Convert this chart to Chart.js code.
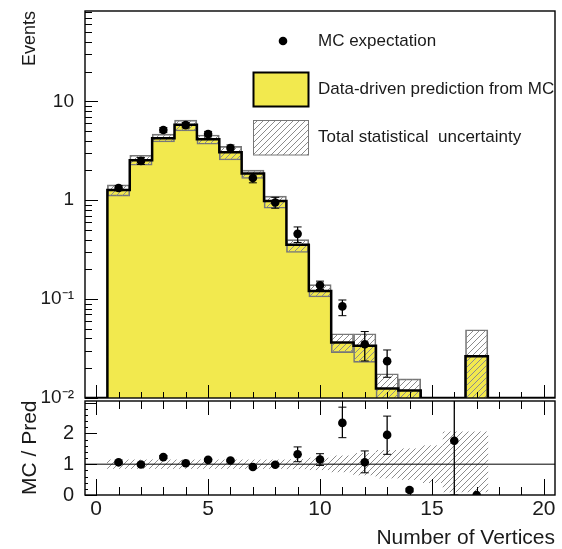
<!DOCTYPE html>
<html>
<head>
<meta charset="utf-8">
<script src="https://cdn.jsdelivr.net/npm/chart.js@4.4.1/dist/chart.umd.min.js"></script>
<style>
body { margin: 0; background: #fff; }
#wrap { position: relative; width: 562px; height: 549px; }
canvas { position: absolute; left: 0; }
#main { top: 0; }
#ratio { top: 396px; }
</style>
</head>
<body>
<div id="wrap">
<canvas id="main" width="562" height="425"></canvas>
<canvas id="ratio" width="562" height="153"></canvas>
</div>
<script>
// bin centres (number of vertices)
const bins = [1, 2, 3, 4, 5, 6, 7, 8, 9, 10, 11, 12, 13, 14, 15, 16, 17];

// data-driven prediction and its statistical band
const prediction = [1.27, 2.54, 4.23, 5.8, 4.13, 3.05, 1.86, 0.98, 0.354, 0.121, 0.0365, 0.0338, 0.0125, 0.0119, 0, 0, 0.0264];
const predLow = [1.10, 2.26, 3.88, 5.01, 3.68, 2.55, 1.66, 0.83, 0.296, 0.105, 0.0288, 0.0229, 0.005, 0.005, null, null, 0.005];
const predHigh = [1.43, 2.85, 4.67, 6.47, 4.57, 3.51, 2.02, 1.10, 0.40, 0.14, 0.0446, 0.0446, 0.0176, 0.0156, null, null, 0.049];

// MC expectation
const mcValues = [1.33, 2.5, 5.13, 5.75, 4.67, 3.37, 1.68, 0.95, 0.457, 0.138, 0.0844, 0.035, 0.0236, 0.0019, null, null, null];
const mcLow = [1.25, 2.3, 4.83, 5.4, 4.37, 3.12, 1.5, 0.83, 0.374, 0.125, 0.068, 0.0237, 0.0162, 0.0012, null, null, null];
const mcHigh = [1.41, 2.7, 5.43, 6.1, 4.97, 3.62, 1.86, 1.07, 0.537, 0.152, 0.098, 0.047, 0.0306, 0.0028, null, null, null];

// MC / Pred ratio
const ratioValues = [1.06, 0.99, 1.23, 1.03, 1.14, 1.12, 0.91, 0.98, 1.32, 1.15, 2.34, 1.06, 1.95, 0.16, null, 1.76, 0];
const ratioLow = [1.02, 0.95, 1.18, 0.99, 1.1, 1.08, 0.87, 0.93, 1.08, 0.96, 1.86, 0.72, 1.32, 0.1, null, 0, null];
const ratioHigh = [1.1, 1.03, 1.28, 1.07, 1.18, 1.16, 0.95, 1.03, 1.56, 1.34, 2.85, 1.43, 2.56, 0.22, null, 3.5, null];
const bandLow = [0.86, 0.86, 0.86, 0.86, 0.86, 0.86, 0.86, 0.86, 0.85, 0.82, 0.75, 0.65, 0.55, 0.5, 0.4, 0.1, 0.1];
const bandHigh = [1.14, 1.14, 1.14, 1.14, 1.14, 1.14, 1.14, 1.14, 1.15, 1.2, 1.27, 1.35, 1.45, 1.5, 1.6, 2.05, 2.05];

// axis ticks
const xTicks = [0, 5, 10, 15, 20];
const yTicks = [0.01, 0.1, 1, 10];
const yTickLabels = ['10⁻²', '10⁻¹', '1', '10'];
const ratioTicks = [0, 1, 2];

Chart.defaults.font.family = '"Liberation Sans", Arial, sans-serif';
Chart.defaults.color = '#1a1a1a';
Chart.defaults.animation = false;

const YELLOW = '#f2e94e';
const FLOOR = 0.01;

function makeHatch() {
	const c = document.createElement('canvas');
	c.width = c.height = 6;
	const g = c.getContext('2d');
	g.strokeStyle = '#8c8c8c';
	g.lineWidth = 1;
	g.beginPath();
	g.moveTo(0, 6); g.lineTo(6, 0);
	g.moveTo(-1, 1); g.lineTo(1, -1);
	g.moveTo(5, 7); g.lineTo(7, 5);
	g.stroke();
	return g.createPattern(c, 'repeat');
}
const hatch = makeHatch();

// histogram outline as step points at bin edges
const steps = [{ x: -0.5, y: FLOOR }];
bins.forEach((b, i) => steps.push({ x: b - 0.5, y: prediction[i] > 0 ? prediction[i] : FLOOR }));
steps.push({ x: bins[bins.length - 1] + 0.5, y: FLOOR });
steps.push({ x: 20.5, y: FLOOR });

const pts = (vals) => bins.map((b, i) => ({ x: b, y: vals[i] })).filter(p => p.y !== null);
const ranges = (lo, hi) => bins.map((b, i) => ({ x: b, y: lo[i] === null ? null : [lo[i], hi[i]] })).filter(p => p.y !== null);

function setTicks(list) {
	return (s) => { s.ticks = list.map(v => ({ value: v })); };
}

// frame and inward ticks, ROOT style
function drawFrame(chart, spec) {
	const { ctx, chartArea: a, scales } = chart;
	ctx.save();
	ctx.strokeStyle = '#000';
	ctx.lineWidth = 1;
	ctx.beginPath();
	for (let v = 0; v <= 20; v++) {
		const px = Math.round(scales.x.getPixelForValue(v)) + 0.5;
		const major = v % 5 === 0;
		if (spec.bottom) {
			ctx.moveTo(px, a.bottom);
			ctx.lineTo(px, a.bottom - (major ? spec.bottom[1] : spec.bottom[0]));
		}
		if (spec.top) {
			ctx.moveTo(px, a.top);
			ctx.lineTo(px, a.top + (major ? spec.top[1] : spec.top[0]));
		}
	}
	spec.left.forEach(([v, len]) => {
		const py = Math.round(scales.y.getPixelForValue(v)) + 0.5;
		ctx.moveTo(a.left, py);
		ctx.lineTo(a.left + len, py);
	});
	ctx.stroke();
	ctx.lineWidth = 1.4;
	ctx.strokeRect(a.left, a.top, a.right - a.left, a.bottom - a.top);
	ctx.restore();
}

const logTicks = [];
for (let e = -2; e <= 1; e++) {
	for (let k = 1; k <= 9; k++) {
		const v = k * Math.pow(10, e);
		if (v < 82) logTicks.push([v, k === 1 ? 13 : 7]);
	}
}
const ratioMinor = [];
for (let i = 0; i <= 15; i++) ratioMinor.push([i * 0.2, i % 5 === 0 ? 12 : 3]);

const topPlugin = {
	id: 'topFrame',
	afterDatasetsDraw(chart) {
		drawFrame(chart, { bottom: [6, 13], left: logTicks });
		const ctx = chart.ctx;
		ctx.save();
		ctx.fillStyle = '#000';
		ctx.beginPath();
		ctx.arc(283, 41, 4.3, 0, Math.PI * 2);
		ctx.fill();
		ctx.fillStyle = YELLOW;
		ctx.fillRect(253.5, 72.5, 55, 34);
		ctx.strokeStyle = '#000';
		ctx.lineWidth = 2;
		ctx.strokeRect(253.5, 72.5, 55, 34);
		ctx.fillStyle = hatch;
		ctx.fillRect(253.5, 120.5, 55, 34.5);
		ctx.strokeStyle = '#777';
		ctx.lineWidth = 1;
		ctx.strokeRect(253.5, 120.5, 55, 34.5);
		ctx.fillStyle = '#1a1a1a';
		ctx.font = '17px "Liberation Sans", Arial, sans-serif';
		ctx.textBaseline = 'middle';
		ctx.fillText('MC expectation', 318, 41);
		ctx.fillText('Data-driven prediction from MC', 318, 89);
		ctx.fillText('Total statistical  uncertainty', 318, 137.5);
		ctx.restore();
	}
};

const ratioPlugin = {
	id: 'ratioFrame',
	afterDatasetsDraw(chart) {
		drawFrame(chart, { bottom: [8, 16], top: [8, 14], left: ratioMinor });
	}
};

new Chart(document.querySelector('#main'), {
	type: 'scatter',
	data: {
		datasets: [
			{
				type: 'line',
				data: steps,
				stepped: 'before',
				borderWidth: 0,
				pointRadius: 0,
				backgroundColor: YELLOW,
				fill: 'start',
				order: 3,
			},
			{
				type: 'bar',
				data: ranges(predLow, predHigh),
				backgroundColor: hatch,
				borderColor: '#777',
				borderWidth: 1,
				borderSkipped: false,
				grouped: false,
				barPercentage: 1,
				categoryPercentage: 1,
				clip: 0,
				order: 2,
			},
			{
				type: 'line',
				data: steps,
				stepped: 'before',
				borderColor: '#000',
				borderWidth: 2.5,
				pointRadius: 0,
				fill: false,
				order: 1,
			},
			{
				type: 'bar',
				data: ranges(mcLow, mcHigh),
				backgroundColor: '#000',
				grouped: false,
				maxBarThickness: 1.3,
				clip: 0,
				order: 0,
			},
			{
				data: pts(mcLow).concat(pts(mcHigh)),
				pointStyle: 'line',
				pointRadius: 4,
				borderColor: '#000',
				borderWidth: 1,
				order: 0,
			},
			{
				data: pts(mcValues),
				pointRadius: 4.3,
				backgroundColor: '#000',
				borderWidth: 0,
				order: 0,
			},
		],
	},
	options: {
		responsive: false,
		layout: { padding: { top: 11, right: 7, left: 0, bottom: 27 } },
		plugins: { legend: { display: false }, tooltip: { enabled: false } },
		scales: {
			x: {
				type: 'linear',
				display: false,
				offset: false,
				min: -0.5,
				max: 20.5,
				afterBuildTicks: setTicks(xTicks),
			},
			y: {
				type: 'logarithmic',
				min: FLOOR,
				max: 82,
				afterBuildTicks: setTicks(yTicks),
				afterFit: (s) => { s.width = 85; s.paddingTop = 0; s.paddingBottom = 0; },
				grid: { display: false },
				border: { display: false },
				ticks: { padding: 3, font: { size: 19 }, autoSkip: false, callback: (v, i) => yTickLabels[i] },
				title: { display: true, text: 'Events', align: 'end', font: { size: 18, lineHeight: 1 }, padding: { top: 21 } },
			},
		},
	},
	plugins: [topPlugin],
});

new Chart(document.querySelector('#ratio'), {
	type: 'scatter',
	data: {
		datasets: [
			{
				type: 'bar',
				data: ranges(bandLow, bandHigh),
				backgroundColor: hatch,
				borderWidth: 0,
				grouped: false,
				barPercentage: 1,
				categoryPercentage: 1,
				clip: 0,
				order: 3,
			},
			{
				type: 'line',
				data: [{ x: -0.5, y: 1 }, { x: 20.5, y: 1 }],
				borderColor: '#000',
				borderWidth: 1,
				pointRadius: 0,
				order: 2,
			},
			{
				type: 'bar',
				data: ranges(ratioLow, ratioHigh),
				backgroundColor: '#000',
				grouped: false,
				maxBarThickness: 1.3,
				clip: 0,
				order: 1,
			},
			{
				data: pts(ratioLow).concat(pts(ratioHigh)),
				pointStyle: 'line',
				pointRadius: 4,
				borderColor: '#000',
				borderWidth: 1,
				clip: 0,
				order: 0,
			},
			{
				data: pts(ratioValues),
				pointRadius: 4.3,
				backgroundColor: '#000',
				borderWidth: 0,
				order: 0,
			},
		],
	},
	options: {
		responsive: false,
		layout: { padding: { top: 2, right: 7, left: 0, bottom: 0 } },
		plugins: { legend: { display: false }, tooltip: { enabled: false } },
		scales: {
			x: {
				type: 'linear',
				offset: false,
				min: -0.5,
				max: 20.5,
				afterBuildTicks: setTicks(xTicks),
				afterFit: (s) => { s.height = 54; s.paddingLeft = 0; s.paddingRight = 0; },
				grid: { display: false },
				border: { display: false },
				ticks: { padding: -6, font: { size: 21 }, maxRotation: 0, autoSkip: false },
				title: { display: true, text: 'Number of Vertices', align: 'end', font: { size: 21, lineHeight: 1 }, padding: 0 },
			},
			y: {
				min: 0,
				max: 3.05,
				afterBuildTicks: setTicks(ratioTicks),
				afterFit: (s) => { s.width = 85; s.paddingTop = 0; s.paddingBottom = 0; },
				grid: { display: false },
				border: { display: false },
				ticks: { padding: 3, font: { size: 20 }, autoSkip: false },
				title: { display: true, text: 'MC / Pred', align: 'start', font: { size: 21, lineHeight: 1 }, padding: { top: 20 } },
			},
		},
	},
	plugins: [ratioPlugin],
});
</script>
</body>
</html>
